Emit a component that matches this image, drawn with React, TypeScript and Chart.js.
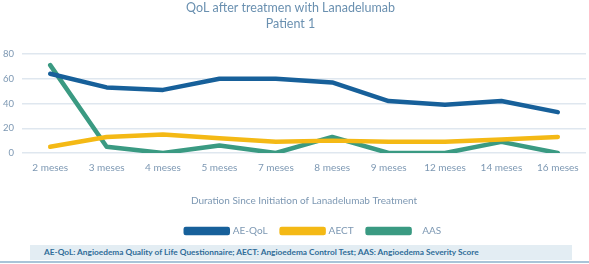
import React, { useEffect, useRef } from "react";
import { Chart, registerables } from "chart.js";

Chart.register(...registerables);

const months = ["2 meses", "3 meses", "4 meses", "5 meses", "7 meses", "8 meses", "9 meses", "12 meses", "14 meses", "16 meses"];
const aeQol = [64, 53, 51, 60, 60, 57, 42, 39, 42, 33];
const aect = [5, 13, 15, 12, 9, 10, 9, 9, 11, 13];
const aas = [71, 5, 0, 6, 0, 13, 0, 0, 9, 0];
const yTicks = [0, 20, 40, 60, 80];

const titleLines = ["QoL after treatmen with Lanadelumab", "Patient 1"];
const xTitle = "Duration Since Initiation of Lanadelumab Treatment";
const footnote = "AE-QoL: Angioedema Quality of Life Questionnaire; AECT: Angioedema Control Test; AAS: Angioedema Severity Score";

const FONT = "Lato, 'Open Sans', sans-serif";
const BLUE = "#17609a";
const YELLOW = "#f4b915";
const GREEN = "#3a9a82";
const LABEL = "#7d98b3";

// Nudges the centred legend row a little to the right of the canvas centre.
const legendShift = {
  id: "legendShift",
  afterLayout(chart: any) {
    const lg = chart.legend;
    if (lg) {
      lg.left += 23;
      lg.right += 23;
    }
  },
};

export default function App() {
  const ref = useRef<HTMLCanvasElement | null>(null);

  useEffect(() => {
    if (!ref.current) return;
    const line = (label: string, data: number[], color: string) => ({
      label,
      data,
      borderColor: color,
      backgroundColor: color,
      borderWidth: 4.5,
      pointRadius: 0,
      tension: 0,
      borderJoinStyle: "round" as const,
      borderCapStyle: "round" as const,
    });
    const chart = new Chart(ref.current, {
      type: "line",
      data: {
        labels: months,
        datasets: [
          line("AE-QoL", aeQol, BLUE),
          line("AECT", aect, YELLOW),
          line("   AAS", aas, GREEN),
        ],
      },
      plugins: [legendShift],
      options: {
        animation: false,
        responsive: false,
        maintainAspectRatio: false,
        layout: { padding: { left: -5, right: 3, top: 0, bottom: 18 } },
        plugins: {
          title: {
            display: true,
            text: titleLines,
            color: "#6a90b0",
            font: { family: FONT, size: 12.5, weight: "normal", lineHeight: 1.28 },
            padding: { top: 0, bottom: 22 },
          },
          legend: {
            position: "bottom",
            labels: {
              boxWidth: 42,
              boxHeight: 4,
              color: LABEL,
              font: { family: FONT, size: 10 },
              padding: 14,
            },
          },
          tooltip: { enabled: false },
        },
        scales: {
          x: {
            offset: true,
            grid: { display: false, drawTicks: false },
            border: { display: false },
            ticks: { color: LABEL, font: { family: FONT, size: 10 }, padding: 9, maxRotation: 0 },
            title: {
              display: true,
              text: xTitle,
              color: LABEL,
              font: { family: FONT, size: 10 },
              padding: { top: 12, bottom: 5 },
            },
          },
          y: {
            min: 0,
            max: 80,
            afterBuildTicks: (axis: any) => {
              axis.ticks = yTicks.map((v) => ({ value: v }));
            },
            grid: { color: "#dfe7ef", lineWidth: 1.5, drawTicks: false },
            border: { display: false },
            ticks: { color: LABEL, font: { family: FONT, size: 9.5 }, padding: 8 },
          },
        },
      },
    });
    return () => chart.destroy();
  }, []);

  return (
    <div style={{ position: "fixed", left: 0, top: 0, width: 589, height: 264, background: "#fff" }}>
      <canvas ref={ref} width={589} height={264} style={{ position: "absolute", left: 0, top: 0 }} />
      <div
        style={{
          position: "absolute",
          left: 30,
          top: 245,
          width: 542,
          height: 15,
          background: "#e3edf3",
          color: "#2f6c98",
          fontFamily: FONT,
          fontSize: 8.3,
          fontWeight: 700,
          lineHeight: "15px",
          paddingLeft: 14,
          boxSizing: "border-box",
          whiteSpace: "nowrap",
        }}
      >
        {footnote}
      </div>
      <div style={{ position: "absolute", left: 0, top: 261, width: 589, height: 2, background: "#a9c4d8" }} />
    </div>
  );
}
